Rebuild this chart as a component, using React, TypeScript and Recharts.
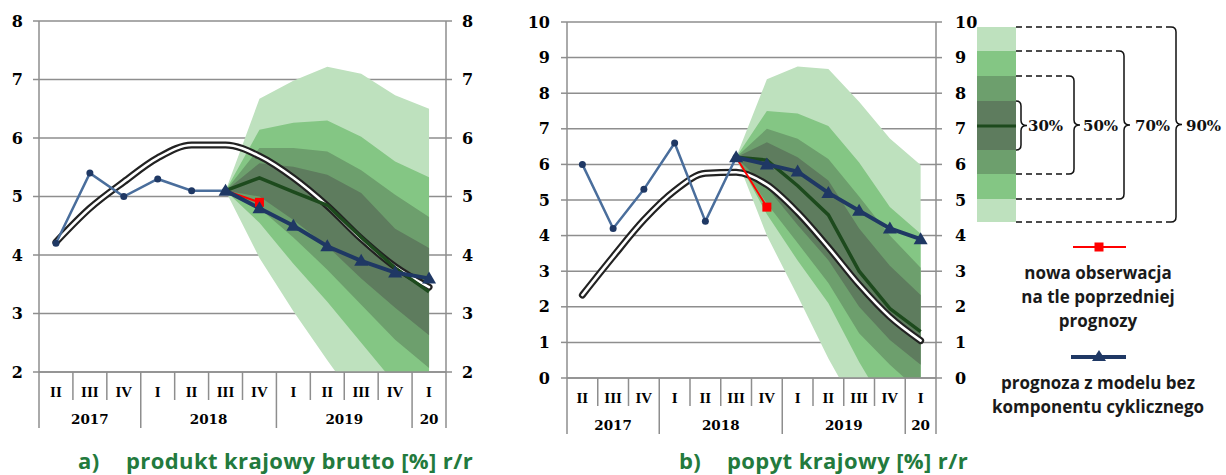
import React from 'react';
import { ComposedChart, Line, Area, XAxis, YAxis, CartesianGrid } from 'recharts';

// categories
const quarters = ['II', 'III', 'IV', 'I', 'II', 'III', 'IV', 'I', 'II', 'III', 'IV', 'I'];
const years = ['2017', '2017', '2017', '2018', '2018', '2018', '2018', '2019', '2019', '2019', '2019', '20'];

// a) GDP y/y
const gdpTicks = [2, 3, 4, 5, 6, 7, 8];
const gdpObserved = [4.2, 5.4, 5.0, 5.3, 5.1, 5.1, null, null, null, null, null, null];
const gdpNoCycle = [null, null, null, null, null, 5.1, 4.8, 4.5, 4.15, 3.9, 3.7, 3.6];
const gdpNewObs = [null, null, null, null, null, 5.1, 4.9, null, null, null, null, null];
const gdpCentral = [null, null, null, null, null, 5.1, 5.32, 5.08, 4.85, 4.3, 3.78, 3.37];
const gdpTrend = [4.22, 4.8, 5.25, 5.66, 5.88, 5.88, 5.69, 5.32, 4.84, 4.28, 3.8, 3.45];
const gdp90Up = [null, null, null, null, null, 5.1, 6.67, 6.98, 7.22, 7.1, 6.73, 6.5];
const gdp70Up = [null, null, null, null, null, 5.1, 6.14, 6.26, 6.3, 6.02, 5.6, 5.33];
const gdp50Up = [null, null, null, null, null, 5.1, 5.83, 5.83, 5.77, 5.45, 5.03, 4.65];
const gdp30Up = [null, null, null, null, null, 5.1, 5.57, 5.51, 5.37, 5.06, 4.45, 4.12];
const gdp30Lo = [null, null, null, null, null, 5.1, 5.0, 4.6, 4.15, 3.6, 3.1, 2.63];
const gdp50Lo = [null, null, null, null, null, 5.1, 4.8, 4.3, 3.75, 3.15, 2.55, 2.07];
const gdp70Lo = [null, null, null, null, null, 5.1, 4.55, 3.85, 3.2, 2.5, 1.8, 1.3];
const gdp90Lo = [null, null, null, null, null, 5.1, 3.95, 3.04, 2.2, 1.4, 0.8, 0.3];

// b) domestic demand y/y
const demTicks = [0, 1, 2, 3, 4, 5, 6, 7, 8, 9, 10];
const demObserved = [6.0, 4.2, 5.3, 6.6, 4.4, 6.2, null, null, null, null, null, null];
const demNoCycle = [null, null, null, null, null, 6.2, 6.0, 5.8, 5.2, 4.7, 4.2, 3.9];
const demNewObs = [null, null, null, null, null, 6.2, 4.8, null, null, null, null, null];
const demCentral = [null, null, null, null, null, 6.2, 6.12, 5.4, 4.58, 3.0, 1.95, 1.3];
const demTrend = [2.33, 3.41, 4.44, 5.26, 5.75, 5.78, 5.43, 4.65, 3.67, 2.62, 1.72, 1.05];
const dem90Up = [null, null, null, null, null, 6.2, 8.39, 8.75, 8.68, 7.76, 6.73, 5.98];
const dem70Up = [null, null, null, null, null, 6.2, 7.5, 7.43, 7.08, 6.05, 4.8, 4.05];
const dem50Up = [null, null, null, null, null, 6.2, 7.0, 6.72, 6.15, 5.1, 4.0, 3.1];
const dem30Up = [null, null, null, null, null, 6.2, 6.62, 6.2, 5.55, 4.2, 3.15, 2.33];
const dem30Lo = [null, null, null, null, null, 6.2, 5.35, 4.3, 3.31, 2.0, 1.07, 0.37];
const dem50Lo = [null, null, null, null, null, 6.2, 4.9, 3.79, 2.67, 1.26, 0.37, -0.4];
const dem70Lo = [null, null, null, null, null, 6.2, 4.6, 3.3, 2.1, 0.45, -1.0, -2.0];
const dem90Lo = [null, null, null, null, null, 6.2, 4.0, 2.3, 0.55, -1.0, -2.0, -2.8];

const NAVY = '#1f3864';
const STEEL = '#4a6e9c';
const DKGREEN = '#1d4a1d';
const GRID = '#8e8e8e';
const C90 = '#bee1be';
const C70 = '#84c684';
const C50 = '#6d9f6d';
const C30 = '#5e7c5e';
const SERIF = '"DejaVu Serif", serif';
const SANS = '"Open Sans", Lato, sans-serif';

const keys = quarters.map((q, i) => `${years[i]}-${q}-${i}`);

const band = (lo: (number | null)[], up: (number | null)[], i: number) =>
  lo[i] == null || up[i] == null ? null : [lo[i], up[i]];

const buildRows = (s: any) =>
  keys.map((k, i) => ({
    k,
    observed: s.observed[i],
    noCycle: s.noCycle[i],
    newObs: s.newObs[i],
    central: s.central[i],
    trend: s.trend[i],
    b90: band(s.lo90, s.up90, i),
    b70: band(s.lo70, s.up70, i),
    b50: band(s.lo50, s.up50, i),
    b30: band(s.lo30, s.up30, i),
  }));

const triangleDot = (p: any) => {
  const { cx, cy, index } = p;
  if (cx == null || cy == null || p.value == null) return <g key={`t${index}`} />;
  return <path key={`t${index}`} d={`M${cx},${cy - 7} L${cx + 7},${cy + 5} L${cx - 7},${cy + 5} Z`} fill={NAVY} />;
};

const circleDot = (p: any) => {
  const { cx, cy, index } = p;
  if (cx == null || cy == null || p.value == null) return <g key={`c${index}`} />;
  return <circle key={`c${index}`} cx={cx} cy={cy} r={3.5} fill={NAVY} />;
};

const makeSquareDot = (vals: (number | null)[]) => {
  let last = -1;
  vals.forEach((v, i) => { if (v != null) last = i; });
  return (p: any) => {
    const { cx, cy, index } = p;
    if (cx == null || cy == null || index !== last) return <g key={`s${index}`} />;
    return <rect key={`s${index}`} x={cx - 4.5} y={cy - 4.5} width={9} height={9} fill="#ff0000" />;
  };
};

const makeTick = (bw: number) => (props: any) => {
  const { x, y, payload } = props;
  const i = keys.indexOf(payload.value);
  if (i < 0) return <g />;
  const yearStart = i === 0 || years[i] !== years[i - 1];
  let n = 0;
  if (yearStart) {
    for (let j = i; j < years.length && years[j] === years[i]; j++) n++;
  }
  const left = x - bw / 2;
  return (
    <g>
      <line x1={left} y1={y} x2={left} y2={y + (yearStart ? 56 : 28)} stroke={GRID} strokeWidth={1.5} />
      {i === keys.length - 1 && (
        <line x1={x + bw / 2} y1={y} x2={x + bw / 2} y2={y + 56} stroke={GRID} strokeWidth={1.5} />
      )}
      <text x={x} y={y + 20} textAnchor="middle" dominantBaseline="central"
        fontFamily='"Liberation Serif", serif' fontWeight={700} fontSize={15} fill="#000">
        {quarters[i]}
      </text>
      {yearStart && (
        <text x={left + (n * bw) / 2} y={y + 47} textAnchor="middle" dominantBaseline="central"
          fontFamily={SERIF} fontWeight={700} fontSize={13.5} fill="#000">
          {years[i]}
        </text>
      )}
    </g>
  );
};

const FanPanel = ({ s, width, margin, leftW, rightW, plotW, ticks, tickMarginL, tickMarginR }: any) => {
  const rows = buildRows(s);
  const bw = plotW / keys.length;
  const tickStyle = { fontFamily: SERIF, fontWeight: 700, fontSize: 16, fill: '#000' };
  const domain = [ticks[0], ticks[ticks.length - 1]];
  return (
    <ComposedChart width={width} height={475} data={rows} margin={margin}>
      <CartesianGrid yAxisId="left" vertical={false} stroke={GRID} strokeWidth={1.5} />
      <XAxis dataKey="k" xAxisId={0} interval={0} height={60} tickSize={0} tickMargin={0}
        padding={{ left: bw / 2, right: bw / 2 }} axisLine={{ stroke: GRID, strokeWidth: 1.5 }}
        tickLine={false} tick={makeTick(bw)} />
      <YAxis yAxisId="left" width={leftW} domain={domain} ticks={ticks} allowDataOverflow
        interval={0} tickSize={6} tickMargin={tickMarginL} tick={tickStyle}
        axisLine={{ stroke: GRID, strokeWidth: 1.5 }} tickLine={{ stroke: GRID, strokeWidth: 1.5 }} />
      <YAxis yAxisId="right" orientation="right" width={rightW} domain={domain} ticks={ticks}
        allowDataOverflow interval={0} tickSize={6} tickMargin={tickMarginR} tick={{ ...tickStyle, textAnchor: 'start' }}
        axisLine={{ stroke: GRID, strokeWidth: 1.5 }} tickLine={{ stroke: GRID, strokeWidth: 1.5 }} />
      <Area yAxisId="left" type="linear" dataKey="b90" fill={C90} fillOpacity={1} stroke="none" isAnimationActive={false} />
      <Area yAxisId="left" type="linear" dataKey="b70" fill={C70} fillOpacity={1} stroke="none" isAnimationActive={false} />
      <Area yAxisId="left" type="linear" dataKey="b50" fill={C50} fillOpacity={1} stroke="none" isAnimationActive={false} />
      <Area yAxisId="left" type="linear" dataKey="b30" fill={C30} fillOpacity={1} stroke="none" isAnimationActive={false} />
      <Line yAxisId="left" type="monotone" dataKey="trend" stroke="#222" strokeWidth={7} strokeLinecap="round" dot={false} isAnimationActive={false} />
      <Line yAxisId="left" type="monotone" dataKey="trend" stroke="#fff" strokeWidth={2.6} strokeLinecap="round" dot={false} isAnimationActive={false} />
      <Line yAxisId="left" type="linear" dataKey="central" stroke={DKGREEN} strokeWidth={3.5} dot={false} isAnimationActive={false} />
      <Line yAxisId="left" type="linear" dataKey="observed" stroke={STEEL} strokeWidth={2.5} dot={circleDot} isAnimationActive={false} />
      <Line yAxisId="left" type="linear" dataKey="newObs" stroke="#ff0000" strokeWidth={2} dot={makeSquareDot(s.newObs)} isAnimationActive={false} />
      <Line yAxisId="left" type="linear" dataKey="noCycle" stroke={NAVY} strokeWidth={4} dot={triangleDot} isAnimationActive={false} />
    </ComposedChart>
  );
};

const Brace = ({ x, y1, y2 }: { x: number; y1: number; y2: number }) => {
  const m = (y1 + y2) / 2;
  return (
    <path
      d={`M${x - 5},${y1} Q${x},${y1} ${x},${y1 + 5} L${x},${m - 5} Q${x},${m} ${x + 6},${m} Q${x},${m} ${x},${m + 5} L${x},${y2 - 5} Q${x},${y2} ${x - 5},${y2}`}
      fill="none" stroke="#111" strokeWidth={1.5} />
  );
};

const FanLegend = () => {
  const dash = { stroke: '#111', strokeWidth: 1.5, strokeDasharray: '6 4' };
  const pct = { fontFamily: SERIF, fontWeight: 700, fontSize: 15, fill: '#111', dominantBaseline: 'central' as const };
  const txt = { fontFamily: SANS, fontWeight: 700, fontSize: 17, fill: '#1a1a1a', textAnchor: 'middle' as const, dominantBaseline: 'central' as const };
  return (
    <svg width={266} height={475} style={{ position: 'absolute', left: 960, top: 0 }}>
      <rect x={17} y={27} width={39} height={24} fill={C90} />
      <rect x={17} y={51} width={39} height={25} fill={C70} />
      <rect x={17} y={76} width={39} height={25} fill={C50} />
      <rect x={17} y={101} width={39} height={49} fill={C30} />
      <rect x={17} y={150} width={39} height={24} fill={C50} />
      <rect x={17} y={174} width={39} height={25} fill={C70} />
      <rect x={17} y={199} width={39} height={23} fill={C90} />
      <line x1={17} y1={126} x2={56} y2={126} stroke={DKGREEN} strokeWidth={3} />
      <Brace x={61} y1={101} y2={150} />
      <text x={68} y={126} {...pct}>30%</text>
      <line x1={56} y1={76} x2={109} y2={76} {...dash} />
      <line x1={56} y1={174} x2={109} y2={174} {...dash} />
      <Brace x={114} y1={76} y2={174} />
      <text x={123} y={126} {...pct}>50%</text>
      <line x1={56} y1={51} x2={159} y2={51} {...dash} />
      <line x1={56} y1={199} x2={159} y2={199} {...dash} />
      <Brace x={164} y1={51} y2={199} />
      <text x={175} y={126} {...pct}>70%</text>
      <line x1={56} y1={27} x2={211} y2={27} {...dash} />
      <line x1={56} y1={222} x2={211} y2={222} {...dash} />
      <Brace x={216} y1={27} y2={222} />
      <text x={226} y={126} {...pct}>90%</text>

      <line x1={113} y1={247} x2={166} y2={247} stroke="#ff0000" strokeWidth={2} />
      <rect x={134.5} y={242.5} width={9} height={9} fill="#ff0000" />
      <text x={138} y={272} {...txt}>nowa obserwacja</text>
      <text x={138} y={296} {...txt}>na tle poprzedniej</text>
      <text x={138} y={320} {...txt}>prognozy</text>

      <line x1={111} y1={357} x2={166} y2={357} stroke={NAVY} strokeWidth={4} />
      <path d="M139,350 L146,361 L132,361 Z" fill={NAVY} />
      <text x={138} y={382} {...txt}>prognoza z modelu bez</text>
      <text x={138} y={406} {...txt}>komponentu cyklicznego</text>
    </svg>
  );
};

const gdpSeries = {
  observed: gdpObserved, noCycle: gdpNoCycle, newObs: gdpNewObs, central: gdpCentral, trend: gdpTrend,
  up90: gdp90Up, up70: gdp70Up, up50: gdp50Up, up30: gdp30Up,
  lo30: gdp30Lo, lo50: gdp50Lo, lo70: gdp70Lo, lo90: gdp90Lo,
};
const demSeries = {
  observed: demObserved, noCycle: demNoCycle, newObs: demNewObs, central: demCentral, trend: demTrend,
  up90: dem90Up, up70: dem70Up, up50: dem50Up, up30: dem30Up,
  lo30: dem30Lo, lo50: dem50Lo, lo70: dem70Lo, lo90: dem90Lo,
};

const titleStyle: React.CSSProperties = {
  position: 'absolute', top: 445, fontFamily: SANS, fontWeight: 700, fontSize: 22,
  letterSpacing: 0.4, color: '#237a3d', whiteSpace: 'nowrap', lineHeight: '30px',
};

export default function App() {
  return (
    <div style={{ position: 'absolute', left: 0, top: 0, width: 1226, height: 475, background: '#fff', overflow: 'hidden' }}>
      <div style={{ position: 'absolute', left: 0, top: 0 }}>
        <FanPanel s={gdpSeries} width={480} margin={{ top: 21, right: 0, bottom: 43, left: 0 }}
          leftW={39} rightW={34} plotW={407} ticks={gdpTicks} tickMarginL={10} tickMarginR={10} />
      </div>
      <div style={{ position: 'absolute', left: 480, top: 0 }}>
        <FanPanel s={demSeries} width={500} margin={{ top: 22, right: 0, bottom: 37, left: 0 }}
          leftW={87} rightW={44} plotW={369} ticks={demTicks} tickMarginL={11} tickMarginR={13} />
      </div>
      <FanLegend />
      <div style={{ ...titleStyle, left: 78 }}>a)</div>
      <div style={{ ...titleStyle, left: 126 }}>produkt krajowy brutto [%] r/r</div>
      <div style={{ ...titleStyle, left: 679 }}>b)</div>
      <div style={{ ...titleStyle, left: 727 }}>popyt krajowy [%] r/r</div>
    </div>
  );
}
